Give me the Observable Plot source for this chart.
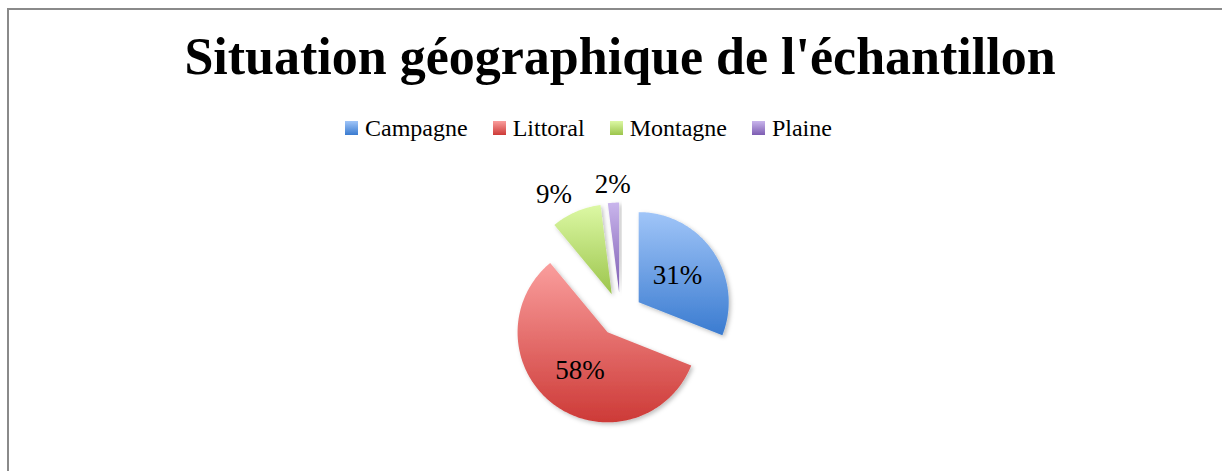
<!DOCTYPE html>
<html>
<head>
<meta charset="utf-8">
<script src="https://cdn.jsdelivr.net/npm/d3@7"></script>
<script src="https://cdn.jsdelivr.net/npm/@observablehq/plot@0.6"></script>
<style>
  html, body { margin: 0; padding: 0; width: 1222px; height: 471px; overflow: hidden; background: #fff; }
  #frame { position: absolute; left: 7px; top: 8px; width: 1400px; height: 600px;
           border-left: 2px solid #8a8a8a; border-top: 2px solid #8a8a8a; }
  #title { position: absolute; left: 0; width: 1240px; top: 31px; text-align: center;
           font-family: "Liberation Serif", serif; font-weight: bold; font-size: 52px; line-height: 52px; color: #000; white-space: nowrap; }
  #legend { position: absolute; left: 345px; top: 116px; display: flex; align-items: center;
            font-family: "Liberation Serif", serif; font-size: 24px; line-height: 24px; color: #000; white-space: nowrap; }
  .item { display: flex; align-items: center; margin-right: 25px; }
  .sw { width: 13px; height: 14px; margin-right: 7px; }
  #chart { position: absolute; left: 0; top: 160px; }
</style>
</head>
<body>
<div id="frame"></div>
<div id="title">Situation géographique de l'échantillon</div>
<div id="legend"></div>
<div id="chart"></div>
<script>
// ---- data ----
const categories = ["Campagne", "Littoral", "Montagne", "Plaine"];
const values = [31, 58, 9, 2];
const labels = ["31%", "58%", "9%", "2%"];
// ---- styles ----
const topColors = ["#a0c5f8", "#fa9e9d", "#dcf8a4", "#c9b5ec"];
const bottomColors = ["#3a7bd0", "#cd3a37", "#9cc54c", "#7d5db2"];

// legend
const legend = document.getElementById("legend");
categories.forEach((c, i) => {
  const it = document.createElement("div");
  it.className = "item";
  const sw = document.createElement("div");
  sw.className = "sw";
  sw.style.background = `linear-gradient(${topColors[i]}, ${bottomColors[i]})`;
  const t = document.createElement("span");
  t.textContent = c;
  it.appendChild(sw); it.appendChild(t);
  legend.appendChild(it);
});

// pie geometry (unit radius), exploded
const W = 1222, H = 300, R = 90, cx = 620, cy = 154;
const explode = 22 / R;
const table = categories.map((c, i) => ({category: c, value: values[i], label: labels[i], idx: i}));
const arcs = d3.pie().sort(null).value(d => d.value)(table);

const slices = arcs.map(a => {
  const mid = (a.startAngle + a.endAngle) / 2;
  const ox = explode * Math.sin(mid), oy = explode * Math.cos(mid);
  const n = Math.max(2, Math.ceil((a.endAngle - a.startAngle) / (Math.PI / 180)));
  const pts = [{x: ox, y: oy}];
  for (let k = 0; k <= n; k++) {
    const t = a.startAngle + (a.endAngle - a.startAngle) * k / n;
    pts.push({x: ox + Math.sin(t), y: oy + Math.cos(t)});
  }
  return {...a.data, mid, ox, oy, pts};
});

const labelPts = slices.map(s => {
  const inside = s.value >= 20;
  const r = inside ? 0.52 : 1 + 10 / R;
  const sx = Math.sin(s.mid);
  return {
    label: s.label,
    inside,
    anchor: inside ? "middle" : (sx < -0.2 ? "end" : sx > 0.2 ? "start" : "middle"),
    x: s.ox + r * Math.sin(s.mid),
    y: s.oy + r * Math.cos(s.mid)
  };
});

const marks = slices.map(s =>
  Plot.line(s.pts, {x: "x", y: "y", curve: "linear-closed", fill: `url(#grad-${s.idx})`, stroke: "none"})
);
marks.push(Plot.text(labelPts.filter(d => d.inside), {x: "x", y: "y", text: "label", fontSize: 27, fontFamily: "Liberation Serif", fill: "#000", textAnchor: "middle", lineAnchor: "middle"}));
for (const anc of ["start", "middle", "end"]) {
  marks.push(Plot.text(labelPts.filter(d => !d.inside && d.anchor === anc), {x: "x", y: "y", text: "label", fontSize: 27, fontFamily: "Liberation Serif", fill: "#000", textAnchor: anc, lineAnchor: "bottom"}));
}

const svg = Plot.plot({
  width: W, height: H, margin: 0,
  x: {domain: [-cx / R, (W - cx) / R], range: [0, W], axis: null},
  y: {domain: [cy / R, -(H - cy) / R], range: [0, H], axis: null},
  marks
});

// gradients + soft shadow
const defs = d3.select(svg).insert("defs", ":first-child");
categories.forEach((c, i) => {
  const g = defs.append("linearGradient").attr("id", `grad-${i}`).attr("x1", 0).attr("y1", 0).attr("x2", 0).attr("y2", 1);
  g.append("stop").attr("offset", "0%").attr("stop-color", topColors[i]);
  g.append("stop").attr("offset", "100%").attr("stop-color", bottomColors[i]);
});
const f = defs.append("filter").attr("id", "shadow").attr("x", "-20%").attr("y", "-20%").attr("width", "140%").attr("height", "140%");
f.append("feDropShadow").attr("dx", 2).attr("dy", 2).attr("stdDeviation", 2).attr("flood-color", "#000").attr("flood-opacity", 0.25);
d3.select(svg).selectAll('g[aria-label="line"]').attr("filter", "url(#shadow)");

document.getElementById("chart").appendChild(svg);
</script>
</body>
</html>
